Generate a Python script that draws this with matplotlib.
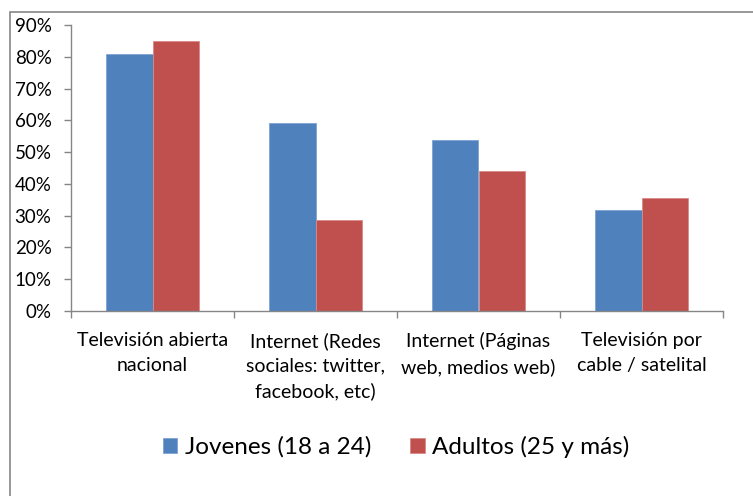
import matplotlib
matplotlib.use("Agg")
import matplotlib.pyplot as plt
import numpy as np
from matplotlib.patches import Rectangle
from matplotlib.ticker import FixedLocator, NullFormatter

categories = ["Televisión abierta\nnacional",
              "Internet (Redes\nsociales: twitter,\nfacebook, etc)",
              "Internet (Páginas\nweb, medios web)",
              "Televisión por\ncable / satelital"]
jovenes = [0.81, 0.593, 0.538, 0.318]
adultos = [0.851, 0.286, 0.441, 0.356]
series_names = ["Jovenes (18 a 24)", "Adultos (25 y más)"]
yticks = [0, 0.1, 0.2, 0.3, 0.4, 0.5, 0.6, 0.7, 0.8, 0.9]
ytick_labels = ["0%", "10%", "20%", "30%", "40%", "50%", "60%", "70%", "80%", "90%"]

plt.rcParams['font.family'] = ['Lato', 'DejaVu Sans']

W, H = 753, 496
fig = plt.figure(figsize=(W/100, H/100), dpi=100)
ax = fig.add_axes([71/W, (H-311)/H, (723-71)/W, (311-25)/H])

x = np.arange(len(categories))
bw = 0.285
blue = "#4F81BD"
red = "#C0504D"
ax.bar(x - bw/2, jovenes, bw, color=blue, edgecolor="#7FA3D3", linewidth=0.6, label=series_names[0])
ax.bar(x + bw/2, adultos, bw, color=red, edgecolor="#D98A88", linewidth=0.6, label=series_names[1])

ax.set_xlim(-0.5, len(categories) - 0.5)
ax.set_ylim(0, 0.9)
ax.set_yticks(yticks)
ax.set_yticklabels(ytick_labels, fontsize=13.5)
ax.xaxis.set_major_locator(FixedLocator(np.arange(len(categories) + 1) - 0.5))
ax.xaxis.set_major_formatter(NullFormatter())
ax.xaxis.set_minor_locator(FixedLocator(x))
ax.set_xticklabels(categories, minor=True, fontsize=14, linespacing=1.55)
ax.tick_params(axis='x', which='minor', length=0, pad=15)
ax.tick_params(axis='x', which='major', length=5, color="#868686", width=1)
ax.tick_params(axis='y', length=5, color="#868686", width=1, pad=9)
for s in ["top", "right"]:
    ax.spines[s].set_visible(False)
for s in ["left", "bottom"]:
    ax.spines[s].set_color("#868686")
    ax.spines[s].set_linewidth(1)

leg = fig.legend(loc="center", bbox_to_anchor=(396/W, 1 - 447/H), ncol=2, frameon=False,
                 fontsize=17.5, handlelength=0.6, handleheight=0.6, handletextpad=0.3,
                 columnspacing=1.6)

fig.patches.append(Rectangle((10/W, -0.05), 1.1, (H-12)/H + 0.05, transform=fig.transFigure,
                             fill=False, edgecolor="#868686", linewidth=1.2, zorder=0))

fig.savefig("out.png", dpi=100)
